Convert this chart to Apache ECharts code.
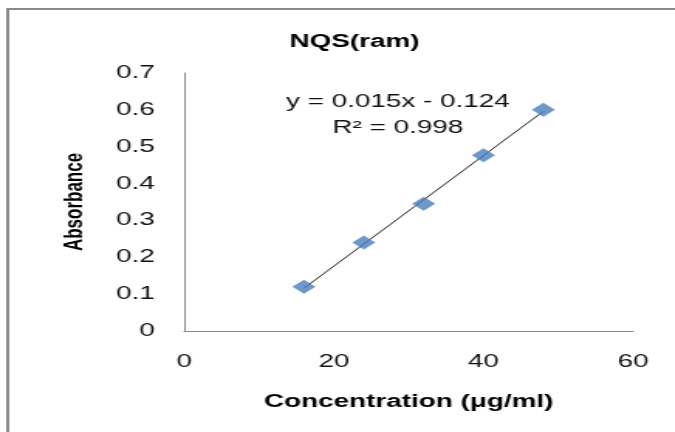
<!DOCTYPE html>
<html>
<head>
<meta charset="utf-8">
<script src="https://cdn.jsdelivr.net/npm/echarts@6/dist/echarts.min.js"></script>
<style>
  html, body { margin: 0; padding: 0; background: #fff; overflow: hidden; }
  /* the reference is stretched sideways, so draw narrow and scale it out */
  #main {
    width: 436px;
    height: 432px;
    transform: scaleX(1.548);
    transform-origin: 0 0;
  }
</style>
</head>
<body>
<div id="main"></div>
<script>
  // data
  var concentration = [16, 24, 32, 40, 48];
  var absorbance = [0.12, 0.24, 0.345, 0.477, 0.60];
  // linear trendline from the chart label
  var trendSlope = 0.015;
  var trendIntercept = -0.124;
  var trendR2 = 0.998;

  var font = 'Liberation Sans, Arial, sans-serif';

  var points = concentration.map(function (x, i) { return [x, absorbance[i]]; });
  var xFirst = concentration[0];
  var xLast = concentration[concentration.length - 1];
  var trend = [
    [xFirst, trendSlope * xFirst + trendIntercept],
    [xLast, trendSlope * xLast + trendIntercept]
  ];

  var chart = echarts.init(document.getElementById('main'));
  chart.setOption({
    animation: false,
    backgroundColor: '#fff',
    title: {
      text: 'NQS(ram)',
      left: 224,
      top: 28,
      textAlign: 'center',
      textStyle: { fontFamily: font, fontSize: 18, fontWeight: 'bold', color: '#000' }
    },
    grid: { left: 119, right: 27, top: 73, bottom: 101 },
    xAxis: {
      type: 'value',
      min: 0, max: 60, interval: 20,
      name: 'Concentration (μg/ml)',
      nameLocation: 'middle',
      nameGap: 62,
      nameTextStyle: { fontFamily: font, fontSize: 18, fontWeight: 'bold', color: '#000' },
      axisLine: { lineStyle: { color: '#8a8a8a', width: 1 } },
      axisTick: { show: false },
      splitLine: { show: false },
      axisLabel: { fontFamily: font, fontSize: 18, color: '#111', margin: 22 }
    },
    yAxis: {
      type: 'value',
      min: 0, max: 0.7, interval: 0.1,
      name: 'Absorbance',
      nameLocation: 'middle',
      nameGap: 62,
      nameRotate: 90,
      nameTextStyle: { fontFamily: font, fontSize: 17, fontWeight: 'bold', color: '#000' },
      axisLine: { show: true, lineStyle: { color: '#8a8a8a', width: 1 } },
      axisTick: { show: false },
      splitLine: { show: false },
      axisLabel: { fontFamily: font, fontSize: 18, color: '#111', margin: 19 }
    },
    graphic: [
      {
        type: 'rect',
        shape: { x: 5, y: 9, width: 500, height: 500 },
        style: { fill: 'none', stroke: '#8a8a8a', lineWidth: 2 },
        silent: true
      },
      {
        type: 'text',
        x: 257,
        y: 89,
        style: {
          text: 'y = ' + trendSlope + 'x - ' + Math.abs(trendIntercept) + '\nR² = ' + trendR2,
          fontFamily: font,
          fontSize: 18,
          lineHeight: 26,
          align: 'center',
          verticalAlign: 'top',
          fill: '#111'
        }
      }
    ],
    series: [
      {
        type: 'line',
        data: trend,
        symbol: 'none',
        lineStyle: { color: '#222', width: 1 },
        z: 2
      },
      {
        type: 'scatter',
        data: points,
        symbol: 'diamond',
        symbolSize: [15, 14],
        itemStyle: { color: '#4a7ebb' },
        z: 3
      }
    ]
  });
</script>
</body>
</html>
